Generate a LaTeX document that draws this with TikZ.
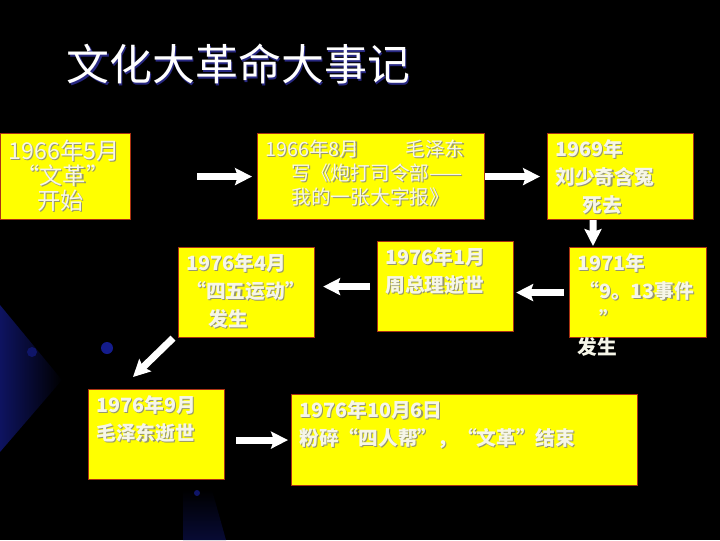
\documentclass[tikz,border=0pt]{standalone}
\usepackage{fontspec}
\setmainfont{Noto Sans CJK SC}
\usepackage{tikz}
\usetikzlibrary{positioning, arrows.meta, calc}

\definecolor{evtyellow}{RGB}{255,255,0}
\definecolor{evtborder}{RGB}{170,50,20}
\definecolor{evttext}{RGB}{246,246,232}
\definecolor{evtshadow}{RGB}{150,150,110}
\definecolor{titleshadow}{RGB}{40,40,130}
\definecolor{glowblue}{RGB}{25,35,175}

% text with a small drop shadow
\newcommand{\shd}[2][evtshadow]{\leavevmode\rlap{\kern0.8pt\raisebox{-0.8pt}{\textcolor{#1}{#2}}}#2}
% top-aligned text block of a given size
\newcommand{\evt}[3]{\parbox[t][#2][t]{#1}{#3}}

\begin{document}
\begin{tikzpicture}[
    x=0.025cm, y=-0.025cm,
    evtbox/.style={rectangle, draw=evtborder, line width=0.8pt, fill=evtyellow, anchor=north west, inner xsep=0.2cm, inner ysep=0.15cm, text=evttext, font=\fontsize{14}{20}\selectfont\bfseries},
    plainbox/.style={evtbox, font=\fontsize{14}{17}\selectfont},
    arr/.style={-{Stealth[length=12pt, width=12pt, inset=2pt]}, line width=5pt, white},
]

% ---- Background ----
\fill[black] (0,0) rectangle (720,540);
\useasboundingbox (0,0) rectangle (720,540);
\shade[left color=glowblue!55!black, right color=black] (0,305) -- (62,380) -- (0,452) -- cycle;
\shade[top color=black, bottom color=glowblue!30!black] (183,490) -- (212,490) -- (226,540) -- (183,540) -- cycle;
\fill[glowblue!60!black] (32,352) circle (5);
\fill[glowblue!80!black] (107,348) circle (6);
\fill[glowblue!60!black] (197,493) circle (3);

% ---- Title ----
\node[font=\fontsize{30.5}{32}\selectfont, text=white, anchor=west] (title) at (62,65) {\shd[titleshadow]{文化大革命大事记}};

% ---- Events, first row ----
\node[plainbox, font=\fontsize{16.5}{18}\selectfont] (e1) at (0,133) {\evt{2.85cm}{1.85cm}{\shd{1966年5月}\\ \shd{\hspace*{0.2cm}“文革”}\\ \shd{\hspace*{0.72cm}开始}}};
\node[plainbox] (e2) at (257,133) {\evt{5.275cm}{1.85cm}{\shd{1966年8月\hspace{1.15cm}毛泽东}\\ \shd{\hspace*{0.65cm}写《炮打司令部——}\\ \shd{\hspace*{0.65cm}我的一张大字报》}}};
\node[evtbox] (e3) at (547,133) {\evt{3.25cm}{1.85cm}{\shd{1969年}\\ \shd{刘少奇含冤}\\ \shd{\hspace*{0.67cm}死去}}};

% ---- Events, second row ----
\node[evtbox] (e4) at (569,247) {\evt{3.025cm}{1.95cm}{\shd{1971年}\\ \shd{\hspace*{0.05cm}“9。13事件}\\ \shd{\hspace*{0.55cm}”}\\ 发生}};
\node[evtbox] (e5) at (377,241) {\evt{3cm}{1.95cm}{\shd{1976年1月}\\ \shd{周总理逝世}}};
\node[evtbox] (e6) at (178,247) {\evt{3cm}{1.95cm}{\shd{1976年4月}\\ \shd{“四五运动”}\\ \shd{\hspace*{0.55cm}发生}}};

% ---- Events, third row ----
\node[evtbox] (e7) at (88,389) {\evt{3cm}{1.95cm}{\shd{1976年9月}\\ \shd{毛泽东逝世}}};
\node[evtbox] (e8) at (291,394) {\evt{8.25cm}{1.975cm}{\shd{1976年10月6日}\\ \shd{粉碎“四人帮”，“文革”结束}}};

% ---- Arrows ----
\draw[arr, shorten <=1.65cm, shorten >=0.125cm] (e1.east) -- (e2.west);
\draw[arr, shorten >=0.175cm] (e2.east) -- (e3.west);
\draw[arr, shorten >=0.025cm] ([xshift=1.15cm]e3.south west) -- ([xshift=0.6cm]e4.north west);
\draw[arr, shorten <=0.125cm, shorten >=0.05cm] (e4.west) -- (e4.west -| e5.east);
\draw[arr, shorten <=0.175cm, shorten >=0.2cm] (e5.west) -- (e5.west -| e6.east);
\draw[arr] ([xshift=-0.125cm]e6.south west) -- ([shift={(1.125cm,0.3cm)}]e7.north west);
\draw[arr, shorten <=0.275cm, shorten >=0.075cm] (e8.west -| e7.east) -- (e8.west);

\end{tikzpicture}
\end{document}
